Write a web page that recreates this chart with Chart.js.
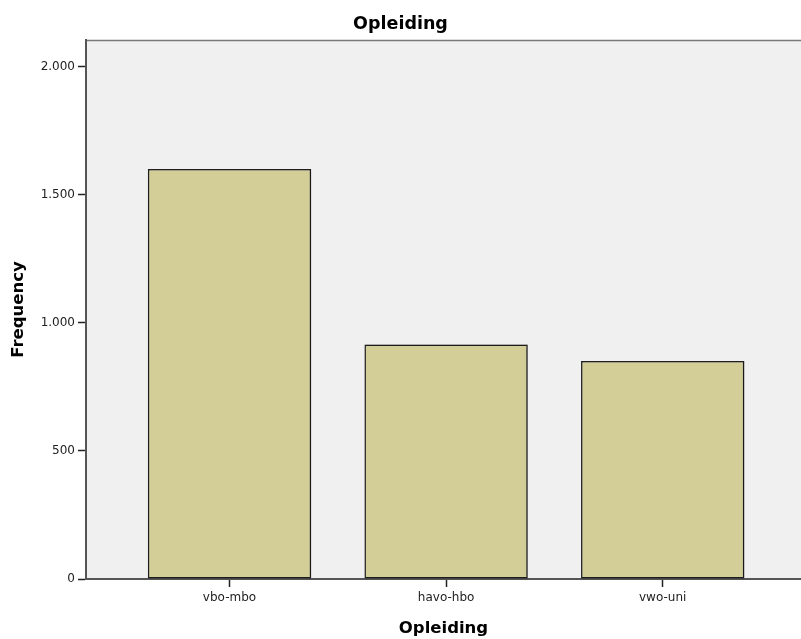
<!DOCTYPE html>
<html>
<head>
<meta charset="utf-8">
<script src="https://cdn.jsdelivr.net/npm/chart.js@4/dist/chart.umd.min.js"></script>
<style>
html,body{margin:0;padding:0;background:#fff;}
canvas{display:block;}
</style>
</head>
<body>
<canvas id="c" width="801" height="639"></canvas>
<script>
const categories = ['vbo-mbo', 'havo-hbo', 'vwo-uni'];
const frequencies = [1601, 916, 851];
const yTickValues = [0, 500, 1000, 1500, 2000];
const yMax = 2105;
const xMin = -0.6625;
const xMax = 2.6385;

function fmt(v) {
  return String(v).replace(/\B(?=(\d{3})+(?!\d))/g, '.');
}

const plotBg = {
  id: 'plotBg',
  beforeDraw(chart) {
    const {ctx, chartArea: a} = chart;
    ctx.save();
    ctx.fillStyle = '#F0F0F0';
    ctx.fillRect(a.left, a.top, a.right - a.left, a.bottom - a.top);
    ctx.strokeStyle = '#7a7a7a';
    ctx.lineWidth = 1.5;
    ctx.beginPath();
    ctx.moveTo(a.left, a.top + 0.5);
    ctx.lineTo(a.right, a.top + 0.5);
    ctx.stroke();
    ctx.restore();
  },
  beforeDatasetsDraw(chart) {
    const ctx = chart.ctx;
    ctx.save();
    ctx.shadowColor = 'rgba(0,0,0,0.35)';
    ctx.shadowBlur = 1.5;
    ctx.shadowOffsetX = 1;
    ctx.shadowOffsetY = 0;
  },
  afterDatasetsDraw(chart) {
    chart.ctx.restore();
  }
};

new Chart(document.getElementById('c'), {
  type: 'bar',
  data: {
    datasets: [{
      data: categories.map((c, i) => ({x: i, y: frequencies[i]})),
      backgroundColor: '#D3CE97',
      borderColor: '#1e1e1e',
      borderWidth: 1.5,
      borderSkipped: false,
      categoryPercentage: 1,
      barPercentage: 0.754
    }]
  },
  options: {
    responsive: false,
    animation: false,
    layout: {padding: 0},
    plugins: {
      legend: {display: false},
      tooltip: {enabled: false},
      title: {
        display: true,
        text: 'Opleiding',
        color: '#000',
        font: {family: 'DejaVu Sans', size: 17.5, weight: 'bold', lineHeight: 1.2},
        padding: {top: 13.5, bottom: 5.5}
      }
    },
    scales: {
      x: {
        type: 'linear',
        min: xMin,
        max: xMax,
        offset: false,
        afterBuildTicks(axis) { axis.ticks = categories.map((c, i) => ({value: i})); },
        afterFit(axis) { axis.height = 60; },
        ticks: {
          callback: (v) => categories[v],
          font: {family: 'DejaVu Sans', size: 12},
          color: '#222',
          padding: 4,
          maxRotation: 0,
          autoSkip: false
        },
        grid: {
          display: true,
          offset: false,
          drawOnChartArea: false,
          drawTicks: true,
          tickLength: 8,
          tickColor: '#222',
          tickWidth: 1.5
        },
        border: {display: true, color: '#555', width: 2},
        title: {
          display: true,
          text: 'Opleiding',
          color: '#000',
          font: {family: 'DejaVu Sans', size: 16.5, weight: 'bold', lineHeight: 1.2},
          padding: {top: 0, bottom: 0.5}
        }
      },
      y: {
        type: 'linear',
        min: 0,
        max: yMax,
        afterBuildTicks(axis) { axis.ticks = yTickValues.map(v => ({value: v})); },
        afterFit(axis) { axis.width = 86; },
        ticks: {
          callback: (v) => fmt(v),
          font: {family: 'DejaVu Sans', size: 12},
          color: '#222',
          padding: 3
        },
        grid: {
          display: true,
          drawOnChartArea: false,
          drawTicks: true,
          tickLength: 8,
          tickColor: '#222',
          tickWidth: 1.5
        },
        border: {display: true, color: '#555', width: 2},
        title: {
          display: true,
          text: 'Frequency',
          color: '#000',
          font: {family: 'DejaVu Sans', size: 16.5, weight: 'bold', lineHeight: 1.2},
          padding: {top: 8.7, bottom: 0}
        }
      }
    }
  },
  plugins: [plotBg]
});
</script>
</body>
</html>
